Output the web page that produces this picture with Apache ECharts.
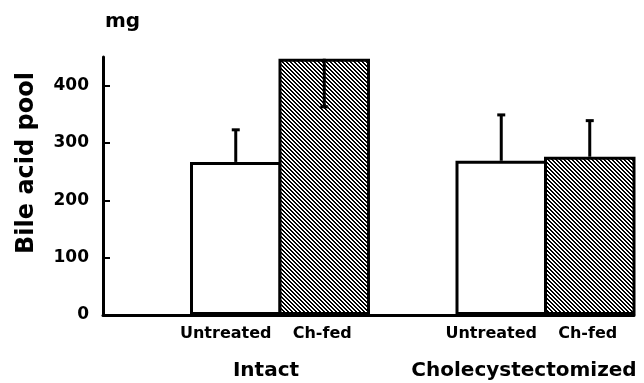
<!DOCTYPE html>
<html>
<head>
<meta charset="utf-8">
<script src="https://cdn.jsdelivr.net/npm/echarts@6/dist/echarts.min.js"></script>
<style>
html,body{margin:0;padding:0;background:#fff;}
#c{width:644px;height:383px;}
</style>
</head>
<body>
<div id="c"></div>
<script>
// ---- data ----
var categories = ['', 'Untreated', 'Ch-fed', '', 'Untreated', 'Ch-fed'];
var groups = ['Intact', 'Cholecystectomized'];
var poolValues = [null, 267, 447, null, 269, 276];
var errorEnds = [null, 323, 363, null, 349, 339];
var yTicks = [0, 100, 200, 300, 400];
var yMax = 450;

// ---- hatch pattern ----
function makeHatch() {
  var s = 4;
  var cv = document.createElement('canvas');
  cv.width = s; cv.height = s;
  var ctx = cv.getContext('2d');
  ctx.fillStyle = '#ffffff';
  ctx.fillRect(0, 0, s, s);
  ctx.fillStyle = '#000000';
  for (var i = 0; i < s; i++) {
    ctx.fillRect(i, i, 1, 1);
    ctx.fillRect((i + 1) % s, i, 1, 1);
  }
  return cv;
}
var hatch = { image: makeHatch(), repeat: 'repeat' };

var FONT = 'DejaVu Sans';

var barData = poolValues.map(function (v, i) {
  if (v === null) return null;
  return {
    value: v,
    itemStyle: {
      color: categories[i] === 'Ch-fed' ? hatch : '#ffffff',
      borderColor: '#000',
      borderWidth: 3
    }
  };
});

var errData = [];
poolValues.forEach(function (v, i) {
  if (v !== null) errData.push([i, v, errorEnds[i]]);
});

var chart = echarts.init(document.getElementById('c'), null, { renderer: 'canvas' });
chart.setOption({
  animation: false,
  backgroundColor: '#fff',
  grid: { left: 103, right: 10, top: 57, bottom: 68 },
  xAxis: {
    type: 'category',
    data: categories,
    axisLine: { lineStyle: { color: '#000', width: 3 } },
    axisTick: { show: false },
    axisLabel: {
      interval: 0,
      margin: 11,
      formatter: function (v) {
        if (v === 'Untreated') return '{u|' + v + '}';
        if (v === 'Ch-fed') return '{c|' + v + '}';
        return '';
      },
      rich: {
        u: { fontFamily: FONT, fontWeight: 'bold', fontSize: 16, color: '#000', padding: [0, 20, 0, 0] },
        c: { fontFamily: FONT, fontWeight: 'bold', fontSize: 16, color: '#000', padding: [0, 4, 0, 0] }
      }
    }
  },
  yAxis: {
    type: 'value',
    min: 0,
    max: yMax,
    interval: 100,
    splitLine: { show: false },
    axisLine: { show: true, lineStyle: { color: '#000', width: 3 } },
    axisTick: { show: true, inside: true, length: 7, lineStyle: { color: '#000', width: 2 }, customValues: yTicks },
    axisLabel: {
      margin: 14,
      fontFamily: FONT, fontWeight: 'bold', fontSize: 17, color: '#000',
      customValues: yTicks
    }
  },
  series: [
    {
      type: 'bar',
      data: barData,
      barWidth: 91.5,
      z: 2
    },
    {
      type: 'custom',
      z: 5,
      data: errData,
      renderItem: function (params, api) {
        var x = api.value(0);
        var p0 = api.coord([x, api.value(1)]);
        var p1 = api.coord([x, api.value(2)]);
        var cap = 4;
        return {
          type: 'group',
          children: [
            { type: 'line', shape: { x1: p0[0], y1: p0[1], x2: p1[0], y2: p1[1] }, style: { stroke: '#000', lineWidth: 3 } },
            { type: 'line', shape: { x1: p1[0] - cap, y1: p1[1], x2: p1[0] + cap, y2: p1[1] }, style: { stroke: '#000', lineWidth: 3 } }
          ]
        };
      }
    }
  ],
  graphic: [
    { type: 'text', left: 105, top: 12, style: { text: 'mg', font: 'bold 20px "DejaVu Sans"', fill: '#000' } },
    { type: 'text', x: 27, y: 163, rotation: Math.PI / 2,
      style: { text: 'Bile acid pool', font: 'bold 24px "DejaVu Sans"', fill: '#000', align: 'center', verticalAlign: 'middle' } },
    { type: 'text', x: 266, y: 371,
      style: { text: groups[0], font: 'bold 20px "DejaVu Sans"', fill: '#000', align: 'center', verticalAlign: 'middle' } },
    { type: 'text', x: 524, y: 371,
      style: { text: groups[1], font: 'bold 20px "DejaVu Sans"', fill: '#000', align: 'center', verticalAlign: 'middle' } }
  ]
});
</script>
</body>
</html>
